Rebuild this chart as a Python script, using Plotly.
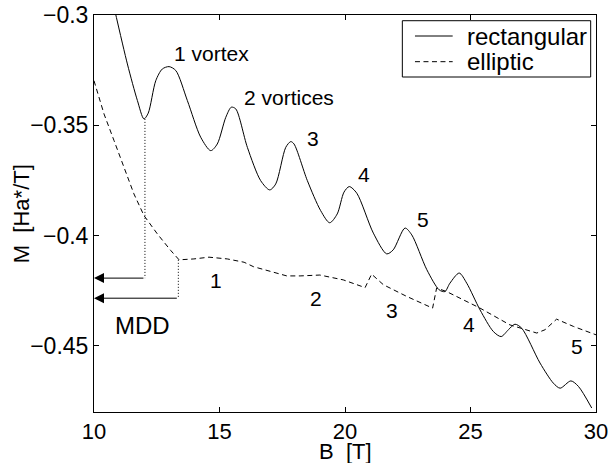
import plotly.graph_objects as go

# ---- data ----
rect_B = [10.80, 11.33, 11.73, 11.99, 12.16, 12.46, 12.72, 12.99, 13.26, 13.72, 14.25, 14.65,
          14.91, 15.25, 15.47, 15.65, 16.11, 16.64, 17.00, 17.24, 17.64, 17.84, 17.97, 18.50,
          19.03, 19.39, 19.69, 19.96, 20.17, 20.47, 21.13, 21.66, 21.92, 22.39, 22.66, 23.26,
          23.75, 23.98, 24.18, 24.55, 24.85, 25.38, 25.91, 26.22, 26.51, 26.77, 27.04, 27.77,
          28.30, 28.57, 29.00, 29.30, 29.83]
rect_M = [-0.2965, -0.3222, -0.3388, -0.3471, -0.3445, -0.3298, -0.3245, -0.3234, -0.3252, -0.3388,
          -0.3554, -0.3615, -0.3585, -0.3464, -0.3418, -0.3426, -0.3600, -0.3751, -0.3793, -0.3766,
          -0.3600, -0.3574, -0.3585, -0.3751, -0.3887, -0.3942, -0.3902, -0.3803, -0.3778, -0.3808,
          -0.3989, -0.4083, -0.4065, -0.3966, -0.3997, -0.4155, -0.4246, -0.4254, -0.4216, -0.4170,
          -0.4216, -0.4337, -0.4435, -0.4458, -0.4427, -0.4402, -0.4420, -0.4578, -0.4669, -0.4692,
          -0.4659, -0.4684, -0.4782]

ell_B = [10.00, 10.40, 10.80, 11.20, 11.59, 11.99, 12.52, 13.06, 13.39, 13.98, 14.58, 15.31,
         15.98, 16.35, 17.68, 18.21, 19.00, 19.93, 20.80, 21.06, 21.53, 22.46, 23.49, 23.65,
         24.05, 25.38, 26.57, 27.64, 27.97, 28.43, 29.10, 30.00]
ell_M = [-0.3298, -0.3449, -0.3570, -0.3690, -0.3811, -0.3909, -0.3992, -0.4068, -0.4110, -0.4106,
         -0.4098, -0.4106, -0.4121, -0.4141, -0.4183, -0.4183, -0.4179, -0.4201, -0.4236, -0.4175,
         -0.4223, -0.4276, -0.4329, -0.4238, -0.4254, -0.4329, -0.4405, -0.4442, -0.4427, -0.4379,
         -0.4412, -0.4450]

series_names = ["rectangular", "elliptic"]

# MDD markers: (B, top M, arrow M)
mdd_B = [12.03, 13.36]
mdd_top = [-0.3471, -0.4110]
mdd_arrow = [-0.4193, -0.4284]

rect_labels = ["1 vortex", "2 vortices", "3", "4", "5"]
rect_label_B = [14.70, 17.78, 18.71, 20.77, 23.10]
rect_label_M = [-0.3174, -0.3373, -0.3558, -0.3724, -0.3928]
ell_labels = ["1", "2", "3", "4", "5"]
ell_label_B = [14.85, 18.86, 21.87, 24.95, 29.23]
ell_label_M = [-0.4202, -0.4284, -0.4342, -0.4401, -0.4505]

x_ticks = [10, 15, 20, 25, 30]
y_ticks = [-0.45, -0.4, -0.35, -0.3]
y_ticktext = ["\u22120.45", "\u22120.4", "\u22120.35", "\u22120.3"]

FONT = "Liberation Sans, Arial, Helvetica, sans-serif"
DASH = "5px,3.5px"

fig = go.Figure()
fig.add_trace(go.Scatter(x=rect_B, y=rect_M, mode="lines", name=series_names[0], showlegend=False,
                         line=dict(color="black", width=1, shape="spline", smoothing=0.8)))
fig.add_trace(go.Scatter(x=ell_B, y=ell_M, mode="lines", name=series_names[1], showlegend=False,
                         line=dict(color="black", width=1, dash=DASH)))

# dotted vertical drops
for b, t, a in zip(mdd_B, mdd_top, mdd_arrow):
    fig.add_trace(go.Scatter(x=[b, b], y=[t, a], mode="lines", showlegend=False,
                             line=dict(color="black", width=1, dash="1px,2px"), hoverinfo="skip"))

annotations = []
for b, a in zip(mdd_B, mdd_arrow):
    annotations.append(dict(x=10, y=a, ax=b, ay=a, xref="x", yref="y", axref="x", ayref="y",
                            text="", showarrow=True, arrowhead=2, arrowsize=2, arrowwidth=1,
                            arrowcolor="black", standoff=0))
for t, b, m in zip(rect_labels, rect_label_B, rect_label_M):
    annotations.append(dict(x=b, y=m, xref="x", yref="y", text=t, showarrow=False,
                            font=dict(size=21, color="black", family=FONT)))
for t, b, m in zip(ell_labels, ell_label_B, ell_label_M):
    annotations.append(dict(x=b, y=m, xref="x", yref="y", text=t, showarrow=False,
                            font=dict(size=21, color="black", family=FONT)))
annotations.append(dict(x=11.93, y=-0.4410, xref="x", yref="y", text="MDD", showarrow=False,
                        font=dict(size=24, color="black", family=FONT)))
annotations.append(dict(x=0.5, y=-0.099, xref="paper", yref="paper", text="B\u00a0 [T]",
                        showarrow=False, yanchor="middle",
                        font=dict(size=22, color="black", family=FONT)))
annotations.append(dict(x=-0.144, y=0.5, xref="paper", yref="paper", text="M\u00a0 [Ha*/T]",
                        showarrow=False, textangle=-90, xanchor="center", yanchor="middle",
                        font=dict(size=22, color="black", family=FONT)))

# legend (drawn as a boxed key in the upper-right corner)
leg_x0, leg_x1, leg_y0, leg_y1 = 0.6142, 0.9894, 0.8438, 0.9856
leg_rows = [0.9471, 0.8824]
leg_styles = ["solid", DASH]
shapes = [dict(type="rect", xref="paper", yref="paper", x0=leg_x0, x1=leg_x1, y0=leg_y0, y1=leg_y1,
               line=dict(color="black", width=1), fillcolor="white", layer="above")]
for yr, st, nm in zip(leg_rows, leg_styles, series_names):
    shapes.append(dict(type="line", xref="paper", yref="paper", x0=0.6394, x1=0.7145, y0=yr, y1=yr,
                       line=dict(color="black", width=1, dash=st), layer="above"))
    annotations.append(dict(x=0.7390, y=yr, xref="paper", yref="paper", text=nm, showarrow=False,
                            xanchor="left", yanchor="middle",
                            font=dict(size=24, color="black", family=FONT)))

axis_common = dict(showline=True, linecolor="black", linewidth=1, mirror="ticks",
                   ticks="inside", ticklen=5, tickwidth=1, tickcolor="black",
                   showgrid=False, zeroline=False, automargin=False)

fig.update_layout(
    width=611, height=463,
    margin=dict(l=94, r=15, t=15, b=51),
    paper_bgcolor="white", plot_bgcolor="white",
    font=dict(family=FONT, color="black"),
    xaxis=dict(range=[10, 30], tickvals=x_ticks,
               tickfont=dict(size=22, color="black", family=FONT), **axis_common),
    yaxis=dict(range=[-0.48, -0.3], tickvals=y_ticks, ticktext=y_ticktext,
               tickfont=dict(size=23, color="black", family=FONT), **axis_common),
    annotations=annotations,
    shapes=shapes,
    showlegend=False,
)

fig.write_html("out.html", config={"displayModeBar": False},
               post_script="document.body.style.margin='0px';")
